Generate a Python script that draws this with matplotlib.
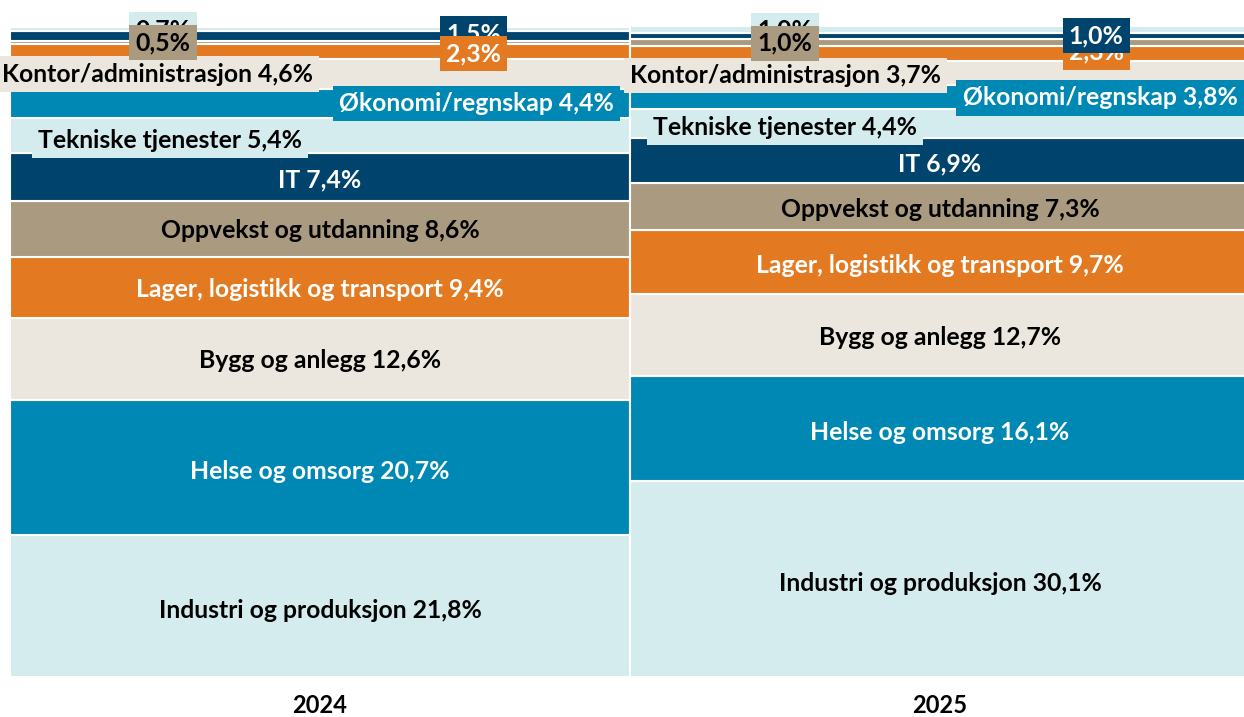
import matplotlib

matplotlib.use("Agg")
import matplotlib.pyplot as plt
import numpy as np

years = ["2024", "2025"]
categories = [
    "Industri og produksjon",
    "Helse og omsorg",
    "Bygg og anlegg",
    "Lager, logistikk og transport",
    "Oppvekst og utdanning",
    "IT",
    "Tekniske tjenester",
    "Økonomi/regnskap",
    "Kontor/administrasjon",
    "",  # orange top strip
    "",  # taupe top strip
    "",  # navy top strip
    "",  # cyan top strip
]
values_2024 = [21.8, 20.7, 12.6, 9.4, 8.6, 7.4, 5.4, 4.4, 4.6, 2.3, 0.5, 1.5, 0.7]
values_2025 = [30.1, 16.1, 12.7, 9.7, 7.3, 6.9, 4.4, 3.8, 3.7, 2.3, 1.0, 1.0, 1.0]

colors = [
    "#d4ecee", "#0088b5", "#ebe7de", "#e37a21", "#a99a80", "#00436c",
    "#d4ecee", "#0088b5", "#ebe7de", "#e37a21", "#a99a80", "#00436c", "#d4ecee",
]
text_colors = [
    "black", "white", "black", "white", "black", "white",
    "black", "white", "black", "white", "black", "white", "black",
]

# label layout: x offset (fraction of bar), y offset (px) per year
x_off = {
    "2024": [0, 0, 0, 0, 0, 0, -0.242, 0.252, -0.262, 0.248, -0.253, 0.248, -0.253],
    "2025": [0, 0, 0, 0, 0, 0, -0.25, 0.258, -0.249, 0.252, -0.25, 0.252, -0.25],
}
dy_px = {
    "2024": [-4, -4, -1, -2, -1, -3, -5, 0, 0, -2, 0, 2, -1],
    "2025": [-4, -4, -3, -4, -3, -3, -4, -1, -3, 1, -1, 0, -1],
}
label_z = {
    "2024": [5, 5, 5, 5, 5, 5, 5, 5, 6, 8, 8, 7, 7],
    "2025": [5, 5, 5, 5, 5, 5, 5, 5, 6, 7, 8, 8, 7],
}

FONT = "Lato"

fig = plt.figure(figsize=(12.44, 7.17), dpi=100)
ax = fig.add_axes([10 / 1244, 1 - 677 / 717, 1240 / 1244, 651 / 717])

data = {"2024": values_2024, "2025": values_2025}
for i, year in enumerate(years):
    vals = np.array(data[year])
    bottoms = np.concatenate([[0], np.cumsum(vals)[:-1]])
    ax.bar(i, vals, bottom=bottoms, width=1.0, color=colors,
           edgecolor="white", linewidth=1.5, zorder=2)
    for j, (v, b) in enumerate(zip(vals, bottoms)):
        txt = f"{v:.1f}%".replace(".", ",")
        if categories[j]:
            txt = f"{categories[j]} {txt}"
        ax.annotate(
            txt, xy=(i + x_off[year][j], b + v / 2), xytext=(0, dy_px[year][j] * 0.72),
            textcoords="offset points", ha="center", va="center",
            fontsize=17.8, fontweight="bold", family=FONT, color=text_colors[j],
            zorder=label_z[year][j], annotation_clip=False,
            bbox=dict(boxstyle="square,pad=0.25", fc=colors[j], ec="none"),
        )

ax.set_xlim(-0.5, 1.5)
ax.set_ylim(0, 100)
ax.set_xticks(range(len(years)))
ax.set_xticklabels(years, fontsize=17, fontweight="bold", family=FONT)
ax.tick_params(axis="x", length=0, pad=12)
ax.set_yticks([])
for s in ax.spines.values():
    s.set_visible(False)

fig.savefig("out.png", dpi=100)
